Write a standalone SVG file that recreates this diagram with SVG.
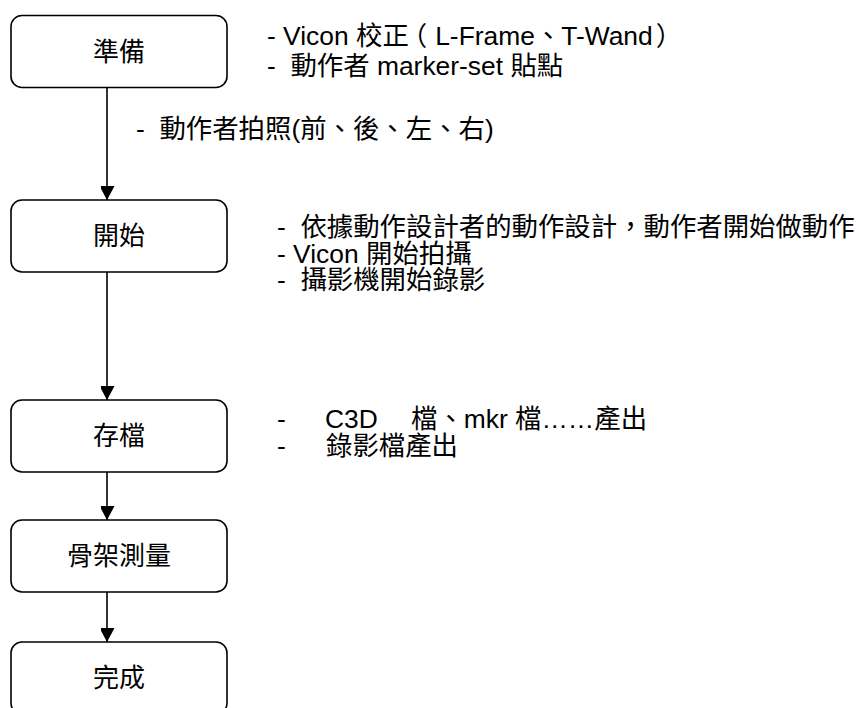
<svg xmlns="http://www.w3.org/2000/svg" width="859" height="708" viewBox="0 0 859 708">
<style>
.box{fill:#fff;stroke:#000;stroke-width:1.6}
.lbl{font-family:"Liberation Sans","Noto Sans CJK TC",sans-serif;font-size:26px;fill:#000;text-anchor:middle}
.t{font-family:"Liberation Sans","Noto Sans CJK TC",sans-serif;font-size:26.4px;fill:#000}
.conn{stroke:#000;stroke-width:1.6;fill:none;marker-end:url(#ah)}
</style>
<defs>
<marker id="ah" markerUnits="userSpaceOnUse" markerWidth="16" markerHeight="14" refX="14" refY="7.5" orient="auto">
<path d="M0,0 L14,7.5 L0,15 Z" fill="#000"/>
</marker>
</defs>
<rect width="859" height="708" fill="#fff"/>
<g id="connectors">
<path class="conn" d="M107,88 V200"/>
<path class="conn" d="M107,272 V400"/>
<path class="conn" d="M107,472 V520"/>
<path class="conn" d="M107,592 V642"/>
</g>
<g id="n1"><rect class="box" x="11" y="15.5" width="216" height="72" rx="11"/><text class="lbl" x="119" y="60.5">準備</text></g>
<g id="n2"><rect class="box" x="11" y="200" width="216" height="72" rx="11"/><text class="lbl" x="119" y="245">開始</text></g>
<g id="n3"><rect class="box" x="11" y="400" width="216" height="72" rx="11"/><text class="lbl" x="119" y="445">存檔</text></g>
<g id="n4"><rect class="box" x="11" y="520" width="216" height="72" rx="11"/><text class="lbl" x="119" y="565">骨架測量</text></g>
<g id="n5"><rect class="box" x="11" y="642" width="216" height="72" rx="11"/><text class="lbl" x="119" y="687">完成</text></g>
<g id="notes">
<text class="t" x="267" y="45" xml:space="preserve">- Vicon 校正<tspan dx="-8">（</tspan><tspan dx="8">L-Frame、T-Wand</tspan><tspan dx="3">）</tspan></text>
<text class="t" x="267" y="75" xml:space="preserve">-  動作者 marker-set 貼點</text>
<text class="t" x="136" y="138" xml:space="preserve">-  動作者拍照(前、後、左、右)</text>
<text class="t" x="277" y="236" xml:space="preserve">-  依據動作設計者的動作設計，動作者開始做動作</text>
<text class="t" x="277" y="262.5" xml:space="preserve">- Vicon 開始拍攝</text>
<text class="t" x="277" y="289" xml:space="preserve">-  攝影機開始錄影</text>
<text class="t" x="277" y="428">-<tspan x="325">C3D</tspan><tspan x="411">檔、mkr 檔……產出</tspan></text>
<text class="t" x="277" y="455">-<tspan x="326">錄影檔產出</tspan></text>
</g>
</svg>
